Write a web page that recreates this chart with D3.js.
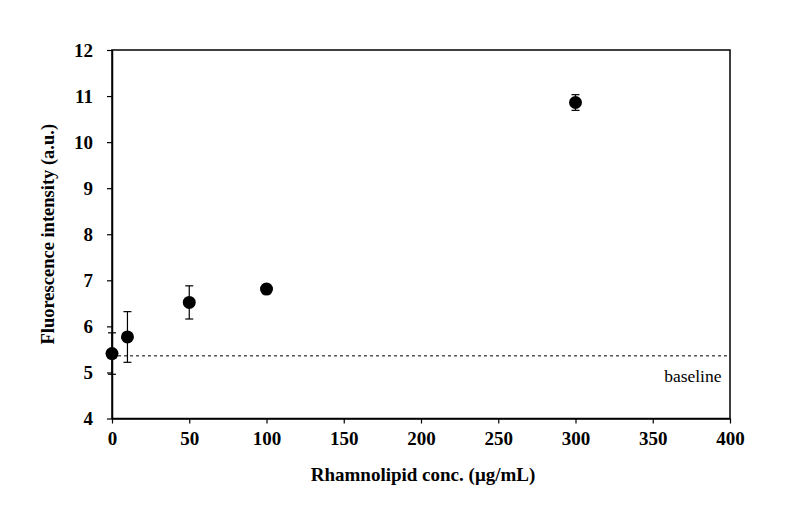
<!DOCTYPE html>
<html><head><meta charset="utf-8">
<script src="https://cdn.jsdelivr.net/npm/d3@7"></script>
<style>body{margin:0;background:#fff}svg{display:block}</style>
</head><body>
<script>
const concentrations = [0, 10, 50, 100, 300];
const intensity = [5.41, 5.77, 6.52, 6.81, 10.86];
const errors = [0.45, 0.55, 0.36, 0.1, 0.17];
const baselineValue = 5.36;
const xTicks = [0, 50, 100, 150, 200, 250, 300, 350, 400];
const yTicks = [4, 5, 6, 7, 8, 9, 10, 11, 12];

const W = 802, H = 507;
const m = {left: 112, top: 50, right: 730, bottom: 418.5};
const svg = d3.select("body").append("svg").attr("width", W).attr("height", H);
const x = d3.scaleLinear().domain([0, 400]).range([m.left, m.right]);
const y = d3.scaleLinear().domain([4, 12]).range([m.bottom, m.top]);
const font = "'Liberation Serif', 'Times New Roman', serif";

// frame
svg.append("rect").attr("x", m.left).attr("y", m.top).attr("width", m.right - m.left).attr("height", m.bottom - m.top)
  .attr("fill", "none").attr("stroke", "#000").attr("stroke-width", 1.5);

const xa = svg.append("g").attr("transform", `translate(0,${m.bottom})`)
  .call(d3.axisBottom(x).tickValues(xTicks).tickSize(5).tickPadding(8).tickSizeOuter(0));
const ya = svg.append("g").attr("transform", `translate(${m.left},0)`)
  .call(d3.axisLeft(y).tickValues(yTicks).tickSize(5).tickPadding(14).tickSizeOuter(0));
[xa, ya].forEach(a => {
  a.select(".domain").attr("stroke", "#000").attr("stroke-width", 1.5);
  a.selectAll(".tick line").attr("stroke", "#000").attr("stroke-width", 1.2);
  a.selectAll("text").attr("font-family", font).attr("font-weight", "bold").attr("font-size", 19).attr("fill", "#000");
});

// baseline
svg.append("line").attr("x1", x(0)).attr("x2", x(400)).attr("y1", y(baselineValue)).attr("y2", y(baselineValue))
  .attr("stroke", "#000").attr("stroke-width", 1).attr("stroke-dasharray", "3,3");
svg.append("text").attr("x", x(394.5)).attr("y", y(baselineValue) + 26).attr("text-anchor", "end")
  .attr("font-family", font).attr("font-size", 17.5).text("baseline");

const data = concentrations.map((c, i) => ({c, v: intensity[i], e: errors[i]}));
const eb = svg.append("g").attr("stroke", "#000").attr("stroke-width", 1.2);
data.forEach(d => {
  eb.append("line").attr("x1", x(d.c)).attr("x2", x(d.c)).attr("y1", y(d.v - d.e)).attr("y2", y(d.v + d.e));
  [d.v - d.e, d.v + d.e].forEach(v => eb.append("line").attr("x1", x(d.c) - 4).attr("x2", x(d.c) + 4).attr("y1", y(v)).attr("y2", y(v)));
});
svg.append("g").selectAll("circle").data(data).join("circle")
  .attr("cx", d => x(d.c)).attr("cy", d => y(d.v)).attr("r", 6.5).attr("fill", "#000");

svg.append("text").attr("x", (m.left + m.right) / 2 + 2).attr("y", 481).attr("text-anchor", "middle")
  .attr("font-family", font).attr("font-weight", "bold").attr("font-size", 19).text("Rhamnolipid conc. (μg/mL)");
svg.append("text").attr("transform", `translate(54,${(m.top + m.bottom) / 2}) rotate(-90)`).attr("text-anchor", "middle")
  .attr("font-family", font).attr("font-weight", "bold").attr("font-size", 18.5).text("Fluorescence intensity (a.u.)");
</script>
</body></html>
